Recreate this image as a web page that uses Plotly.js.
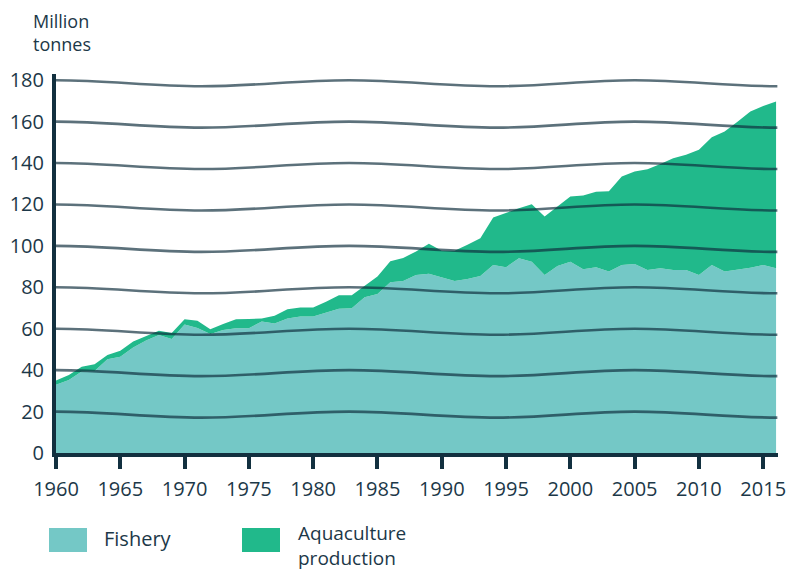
<!DOCTYPE html>
<html>
<head>
<meta charset="utf-8">
<script src="https://cdn.plot.ly/plotly-3.0.1.min.js"></script>
<style>
  html, body { margin: 0; padding: 0; background: #ffffff; }
  #chart { width: 787px; height: 571px; position: absolute; left: 0; top: 0; }
  #status { position: absolute; left: 0; top: 0; width: 1px; height: 1px; overflow: hidden; color: #ffffff; font-size: 1px; }
</style>
</head>
<body>
<div id="chart"></div>
<div id="status"></div>
<script>
// ---- data (million tonnes) ----
const years = [1960,1961,1962,1963,1964,1965,1966,1967,1968,1969,
               1970,1971,1972,1973,1974,1975,1976,1977,1978,1979,
               1980,1981,1982,1983,1984,1985,1986,1987,1988,1989,
               1990,1991,1992,1993,1994,1995,1996,1997,1998,1999,
               2000,2001,2002,2003,2004,2005,2006,2007,2008,2009,
               2010,2011,2012,2013,2014,2015,2016];
const fishery = [33.0,35.3,39.3,39.6,45.3,46.5,51.0,54.3,57.0,55.0,
                 62.0,60.4,57.5,59.4,60.2,60.2,63.5,62.5,64.9,65.9,
                 65.9,67.8,69.7,69.9,75.2,76.8,82.5,83.1,86.0,86.5,
                 84.7,83.1,84.0,85.5,90.8,89.7,94.0,92.4,86.0,90.3,
                 92.3,88.7,89.7,87.6,90.8,91.3,88.4,89.2,88.4,88.4,
                 86.0,90.8,87.6,88.4,89.5,90.8,89.2];
const aquaculture = [2.0,2.4,2.4,3.2,2.0,2.9,2.8,2.2,2.0,3.0,
                     2.6,3.4,2.2,2.9,4.4,4.5,1.5,3.8,4.5,4.3,
                     4.3,5.2,6.5,6.3,5.6,8.4,10.1,11.1,11.3,14.5,
                     12.9,14.5,16.5,18.2,22.9,26.3,24.2,27.7,28.2,28.7,
                     31.5,35.6,36.4,38.8,42.7,44.6,48.6,50.4,53.9,55.6,
                     60.4,61.7,67.6,71.6,75.4,76.8,80.5];
const seriesNames = ["Fishery", "Aquaculture<br>production"];
const unitLabel = "Million<br>tonnes";
const xTickVals = [1960,1965,1970,1975,1980,1985,1990,1995,2000,2005,2010,2015];
const yTickVals = [0,20,40,60,80,100,120,140,160,180];
const gridValues = [20,40,60,80,100,120,140,160,180];
// decorative wavy gridlines: crest / trough years and depth
const waveYears = [1960, 1971.3, 1982.8, 1994.3, 2005, 2016.1];
const waveDepth = 2.9;

// ---- styling ----
const FISH = "#74c8c6", AQUA = "#21b98b", DARK = "#12303f", TEXT = "#1c3848";
const FONT = "Open Sans, sans-serif";

function wavePath(v) {
  let p = "M" + waveYears[0] + "," + v;
  for (let i = 1; i < waveYears.length; i++) {
    const x0 = waveYears[i - 1], x1 = waveYears[i];
    const y0 = (i - 1) % 2 === 0 ? v : v - waveDepth;
    const y1 = i % 2 === 0 ? v : v - waveDepth;
    const k = 0.3642 * (x1 - x0);
    p += " C" + (x0 + k).toFixed(3) + "," + y0 + " " + (x1 - k).toFixed(3) + "," + y1 + " " + x1 + "," + y1;
  }
  return p;
}

const W = 787, H = 571;
const M = { l: 56, r: 9, t: 74, b: 118 };
const pw = W - M.l - M.r, ph = H - M.t - M.b;
const px = (x) => (x - M.l) / pw;
const py = (y) => (H - M.b - y) / ph;

const traces = [
  { x: years, y: fishery, name: "Fishery", type: "scatter", mode: "lines",
    stackgroup: "one", fillcolor: FISH, line: { width: 0 } },
  { x: years, y: aquaculture, name: "Aquaculture production", type: "scatter", mode: "lines",
    stackgroup: "one", fillcolor: AQUA, line: { width: 0 } }
];

const shapes = gridValues.map(v => ({
  type: "path", xref: "x", yref: "y", path: wavePath(v), layer: "above",
  line: { color: "rgba(15,45,60,0.68)", width: 2.6 }
}));
shapes.push({ type: "rect", xref: "paper", yref: "paper",
  x0: px(49), x1: px(87), y0: py(552), y1: py(528), fillcolor: FISH, line: { width: 0 } });
shapes.push({ type: "rect", xref: "paper", yref: "paper",
  x0: px(242), x1: px(280), y0: py(552), y1: py(528), fillcolor: AQUA, line: { width: 0 } });

const annotations = [
  { text: unitLabel, x: px(31), y: py(7), yanchor: "top", size: 18 },
  { text: seriesNames[0], x: px(102), y: py(538), yanchor: "middle", size: 20 },
  { text: seriesNames[1], x: px(296), y: py(518), yanchor: "top", size: 19 }
].map(a => ({
  text: a.text, xref: "paper", yref: "paper", x: a.x, y: a.y,
  xanchor: "left", yanchor: a.yanchor, align: "left", showarrow: false,
  font: { family: FONT, size: a.size, color: TEXT }
}));

const layout = {
  width: W, height: H, margin: Object.assign({}, M),
  paper_bgcolor: "#ffffff", plot_bgcolor: "#ffffff", showlegend: false,
  xaxis: {
    range: [1960, 2016.15], tickvals: xTickVals,
    showgrid: false, zeroline: false, showline: true, linecolor: DARK, linewidth: 4,
    ticks: "outside", ticklen: 12, tickwidth: 4, tickcolor: DARK, ticklabelstandoff: 3,
    tickfont: { family: FONT, size: 20, color: TEXT }
  },
  yaxis: {
    range: [0, 183], tickvals: yTickVals,
    showgrid: false, zeroline: false, showline: true, linecolor: DARK, linewidth: 4,
    ticks: "", ticklabelstandoff: 4,
    tickfont: { family: FONT, size: 20, color: TEXT }
  },
  shapes: shapes,
  annotations: annotations
};

Plotly.newPlot("chart", traces, layout, { displayModeBar: false, staticPlot: true })
  .then(gd => Plotly.relayout(gd, { "xaxis.ticks": "outside", "xaxis.ticklen": 12 }))
  .then(() => { document.getElementById("status").textContent = "ready"; });
</script>
</body>
</html>
